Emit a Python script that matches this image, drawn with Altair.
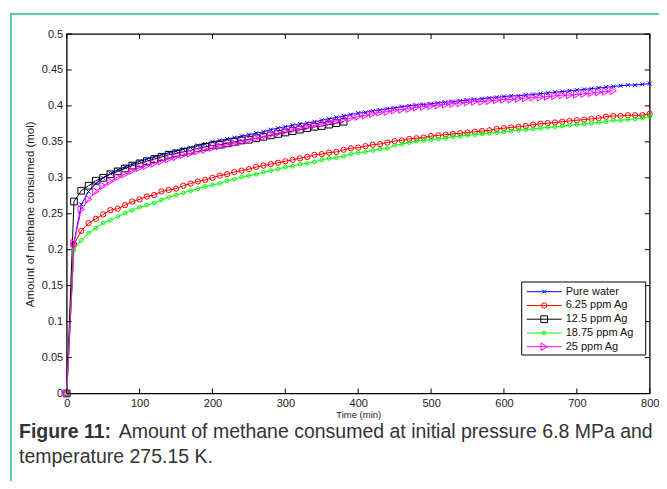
import altair as alt
import pandas as pd

# ---------------- data ----------------
t_full = list(range(0, 801, 10))
t_black = list(range(0, 381, 10))
t_mag = list(range(0, 751, 10))

pure_water = [0, 0.210, 0.263, 0.281, 0.292, 0.300, 0.306, 0.311, 0.315, 0.319,
              0.323, 0.326, 0.329, 0.332, 0.335, 0.337, 0.340, 0.342, 0.345, 0.347,
              0.350, 0.352, 0.354, 0.356, 0.358, 0.360, 0.362, 0.364, 0.367, 0.369,
              0.371, 0.373, 0.375, 0.376, 0.378, 0.380, 0.382, 0.384, 0.386, 0.388,
              0.390, 0.391, 0.393, 0.394, 0.396, 0.397, 0.399, 0.400, 0.401, 0.402,
              0.403, 0.404, 0.405, 0.406, 0.407, 0.408, 0.409, 0.410, 0.411, 0.412,
              0.413, 0.414, 0.414, 0.415, 0.416, 0.417, 0.418, 0.419, 0.420, 0.421,
              0.422, 0.423, 0.424, 0.425, 0.426, 0.427, 0.428, 0.429, 0.429, 0.430,
              0.431]

ag_6_25 = [0, 0.208, 0.226, 0.237, 0.243, 0.249, 0.255, 0.257, 0.262, 0.267,
           0.270, 0.274, 0.276, 0.281, 0.283, 0.285, 0.289, 0.292, 0.295, 0.297,
           0.300, 0.303, 0.305, 0.308, 0.310, 0.312, 0.315, 0.317, 0.319, 0.321,
           0.323, 0.325, 0.327, 0.329, 0.332, 0.333, 0.335, 0.336, 0.339, 0.341,
           0.342, 0.344, 0.346, 0.347, 0.349, 0.351, 0.352, 0.354, 0.355, 0.356,
           0.358, 0.359, 0.360, 0.361, 0.362, 0.363, 0.364, 0.365, 0.366, 0.368,
           0.369, 0.370, 0.371, 0.372, 0.374, 0.375, 0.376, 0.377, 0.378, 0.379,
           0.380, 0.381, 0.382, 0.383, 0.385, 0.386, 0.386, 0.387, 0.387, 0.387,
           0.389]

ag_12_5 = [0, 0.267, 0.282, 0.289, 0.296, 0.300, 0.305, 0.309, 0.313, 0.317,
           0.320, 0.323, 0.326, 0.329, 0.332, 0.334, 0.336, 0.338, 0.341, 0.343,
           0.345, 0.346, 0.348, 0.350, 0.352, 0.353, 0.355, 0.357, 0.359, 0.361,
           0.363, 0.365, 0.367, 0.369, 0.371, 0.372, 0.374, 0.376, 0.378]

ag_18_75 = [0, 0.200, 0.213, 0.223, 0.230, 0.237, 0.241, 0.246, 0.251, 0.255,
            0.259, 0.262, 0.265, 0.269, 0.273, 0.276, 0.279, 0.282, 0.285, 0.288,
            0.290, 0.292, 0.296, 0.298, 0.301, 0.303, 0.305, 0.308, 0.310, 0.312,
            0.315, 0.316, 0.319, 0.320, 0.322, 0.325, 0.327, 0.328, 0.330, 0.333,
            0.335, 0.336, 0.338, 0.340, 0.341, 0.345, 0.347, 0.349, 0.351, 0.352,
            0.353, 0.354, 0.355, 0.357, 0.358, 0.359, 0.360, 0.361, 0.362, 0.363,
            0.364, 0.365, 0.366, 0.367, 0.368, 0.369, 0.370, 0.371, 0.372, 0.373,
            0.374, 0.375, 0.376, 0.377, 0.378, 0.380, 0.380, 0.381, 0.382, 0.383,
            0.385]

ag_25 = [0, 0.209, 0.256, 0.270, 0.281, 0.289, 0.295, 0.301, 0.305, 0.310,
         0.314, 0.317, 0.320, 0.323, 0.326, 0.329, 0.332, 0.334, 0.337, 0.339,
         0.342, 0.344, 0.346, 0.348, 0.350, 0.353, 0.355, 0.357, 0.360, 0.362,
         0.365, 0.367, 0.369, 0.371, 0.373, 0.375, 0.377, 0.379, 0.381, 0.383,
         0.385, 0.387, 0.389, 0.391, 0.392, 0.394, 0.395, 0.396, 0.398, 0.399,
         0.400, 0.401, 0.402, 0.403, 0.404, 0.405, 0.406, 0.406, 0.407, 0.408,
         0.409, 0.409, 0.410, 0.411, 0.412, 0.412, 0.413, 0.414, 0.415, 0.415,
         0.416, 0.417, 0.418, 0.419, 0.420, 0.421]

series_names = ["Pure water", "6.25 ppm Ag", "12.5 ppm Ag", "18.75 ppm Ag", "25 ppm Ag"]
series_times = [t_full, t_full, t_black, t_full, t_mag]
series_values = [pure_water, ag_6_25, ag_12_5, ag_18_75, ag_25]

x_ticks = [0, 100, 200, 300, 400, 500, 600, 700, 800]
y_ticks = [0, 0.05, 0.1, 0.15, 0.2, 0.25, 0.3, 0.35, 0.4, 0.45, 0.5]

caption_bold = "Figure 11:"
caption_line1 = "Amount of methane consumed at initial pressure 6.8 MPa and"
caption_line2 = "temperature 275.15 K."

# ---------------- styling ----------------
colors = ["#0000ff", "#ff0000", "#000000", "#00ff00", "#ff00ff"]
shapes = ["M-1,-1L1,1M-1,1L1,-1", "circle", "square", "circle", "triangle-right"]
sizes = [16, 28, 45, 14, 55]

W, H = 583, 359.5
FONT = "Liberation Sans"

xs = alt.Scale(domain=[0, 800], nice=False, zero=False)
ys = alt.Scale(domain=[0, 0.5], nice=False, zero=False)

x_axis = alt.Axis(values=x_ticks, tickSize=0, domain=False, grid=False, labelFlush=False,
                  labelFont=FONT, labelFontSize=11, labelColor="#222", labelPadding=4,
                  title="Time (min)", titleFont=FONT, titleFontSize=9.5,
                  titleFontWeight="normal", titleColor="#222", titlePadding=1)
y_axis = alt.Axis(values=y_ticks, tickSize=0, domain=False, grid=False, format=".2~f",
                  labelFlush=False,
                  labelFont=FONT, labelFontSize=11, labelColor="#222", labelPadding=4,
                  title="Amount of methane consumed (mol)", titleFont=FONT,
                  titleFontSize=11.5, titleFontWeight="normal", titleColor="#222",
                  titlePadding=6)

layers = []
for name, ts, vs, c, sh, sz in zip(series_names, series_times, series_values,
                                   colors, shapes, sizes):
    df = pd.DataFrame({"t": ts, "v": vs})
    base = alt.Chart(df).encode(
        x=alt.X("t:Q", scale=xs, axis=x_axis),
        y=alt.Y("v:Q", scale=ys, axis=y_axis),
    )
    layers.append(base.mark_line(color=c, strokeWidth=1))
    layers.append(base.mark_point(shape=sh, size=sz, color=c, filled=False,
                                  opacity=1, strokeWidth=1))

# inner tick marks (MATLAB style)
xt = pd.DataFrame({"v": x_ticks})
yt = pd.DataFrame({"v": y_ticks})
tick_len = 5
layers.append(alt.Chart(xt).mark_rule(color="black").encode(
    x=alt.X("v:Q", scale=xs, axis=x_axis), y=alt.value(H), y2=alt.value(H - tick_len)))
layers.append(alt.Chart(xt).mark_rule(color="black").encode(
    x=alt.X("v:Q", scale=xs, axis=x_axis), y=alt.value(0), y2=alt.value(tick_len)))
layers.append(alt.Chart(yt).mark_rule(color="black").encode(
    y=alt.Y("v:Q", scale=ys, axis=y_axis), x=alt.value(0), x2=alt.value(tick_len)))
layers.append(alt.Chart(yt).mark_rule(color="black").encode(
    y=alt.Y("v:Q", scale=ys, axis=y_axis), x=alt.value(W), x2=alt.value(W - tick_len)))

# legend (drawn manually inside the plot)
one = pd.DataFrame({"a": [0]})
layers.append(alt.Chart(one).mark_rect(fill="white", stroke="black", strokeWidth=1).encode(
    x=alt.value(455), x2=alt.value(579), y=alt.value(248), y2=alt.value(321)))
for i, (name, c, sh, sz) in enumerate(zip(series_names, colors, shapes, sizes)):
    py = 257.7 + i * 13.75
    layers.append(alt.Chart(one).mark_rule(color=c, strokeWidth=1).encode(
        x=alt.value(460), x2=alt.value(495), y=alt.value(py)))
    layers.append(alt.Chart(one).mark_point(shape=sh, size=sz, color=c, filled=False,
                                           opacity=1, strokeWidth=1).encode(
        x=alt.value(477.5), y=alt.value(py)))
    layers.append(alt.Chart(pd.DataFrame({"txt": [name]})).mark_text(
        align="left", baseline="middle", font=FONT, fontSize=11, color="#111").encode(
        text="txt:N", x=alt.value(499), y=alt.value(py)))

# teal frame of the figure box
frame_c = "#5cc9b6"
layers.append(alt.Chart(one).mark_rule(color=frame_c, strokeWidth=2).encode(
    x=alt.value(-55.7), x2=alt.value(W + 20), y=alt.value(-20)))
layers.append(alt.Chart(one).mark_rule(color=frame_c, strokeWidth=2).encode(
    x=alt.value(-55.7), y=alt.value(-21), y2=alt.value(H + 100)))

# caption
CAP = 19.5
layers.append(alt.Chart(pd.DataFrame({"txt": [caption_bold]})).mark_text(
    align="left", baseline="middle", font=FONT, fontSize=CAP, fontWeight="bold",
    color="#333").encode(text="txt:N", x=alt.value(-47.7), y=alt.value(398)))
layers.append(alt.Chart(pd.DataFrame({"txt": [caption_line1]})).mark_text(
    align="right", baseline="middle", font=FONT, fontSize=CAP,
    color="#333").encode(text="txt:N", x=alt.value(586), y=alt.value(398)))
layers.append(alt.Chart(pd.DataFrame({"txt": [caption_line2]})).mark_text(
    align="left", baseline="middle", font=FONT, fontSize=CAP,
    color="#333").encode(text="txt:N", x=alt.value(-47.7), y=alt.value(423)))

chart = alt.layer(*layers).properties(
    width=W, height=H,
    autosize=alt.AutoSizeParams(type="none"),
    padding={"left": 58.7, "top": 26, "right": 9, "bottom": 87.5},
    background="white",
).configure_view(stroke="black", strokeWidth=1.3)

chart.save("out.html", embed_options={"renderer": "svg", "actions": False})
